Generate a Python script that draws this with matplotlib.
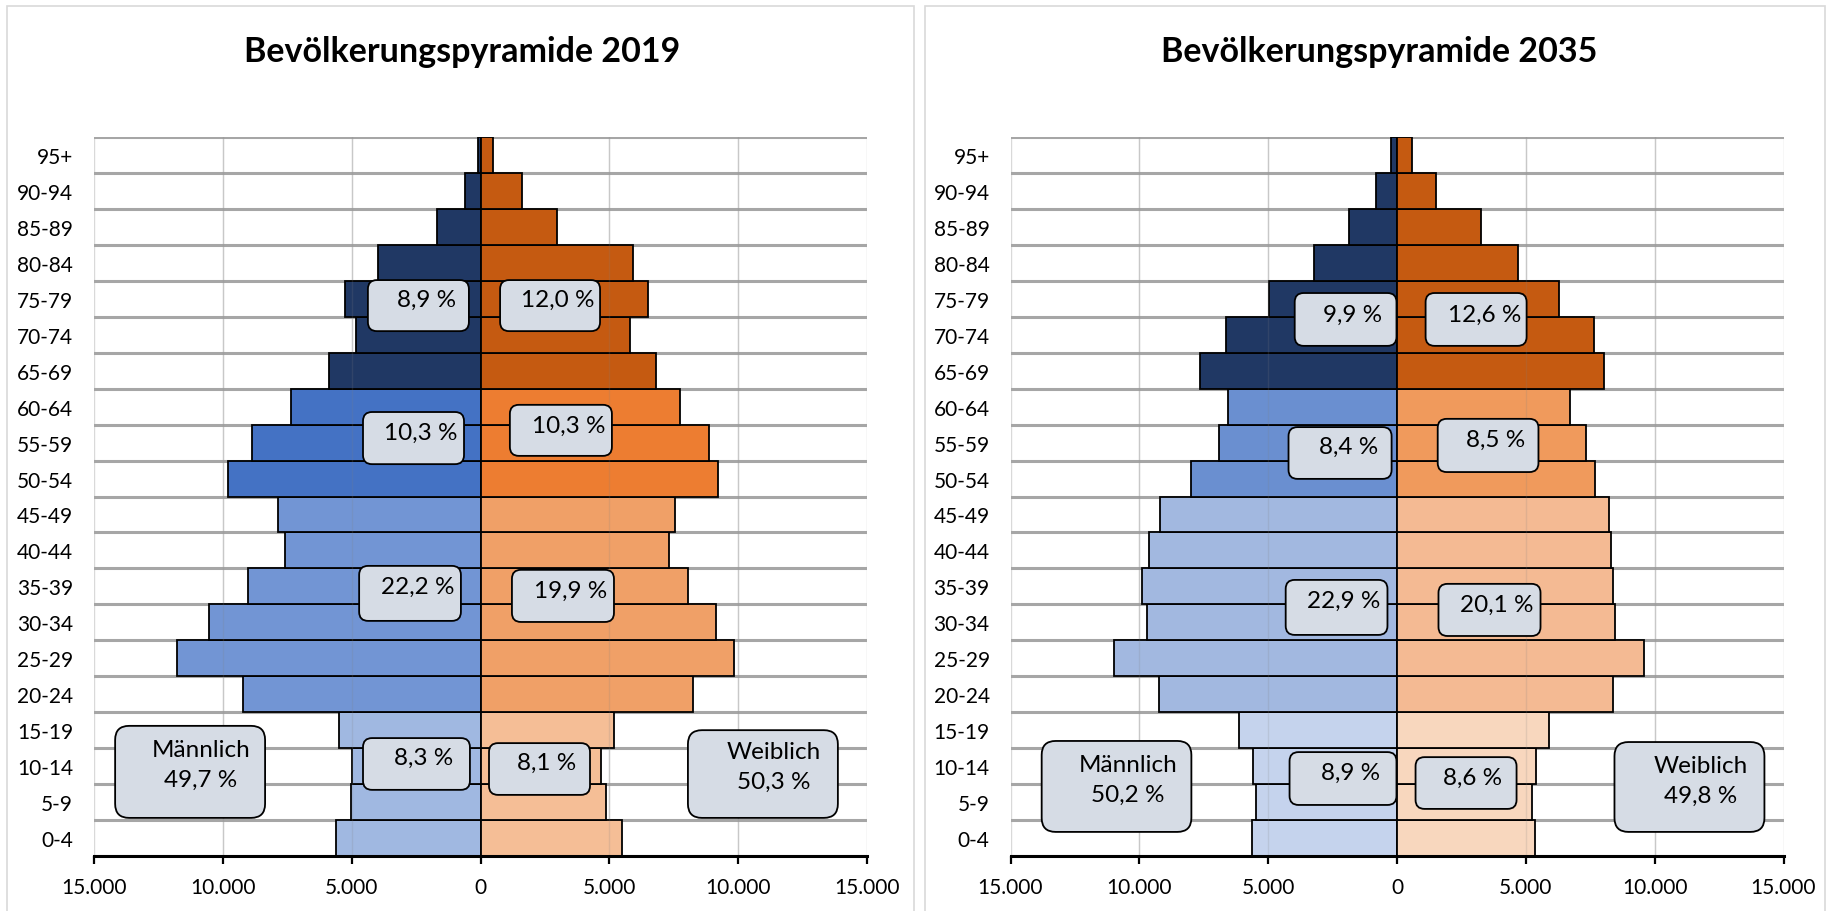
import matplotlib
matplotlib.use("Agg")
import matplotlib.pyplot as plt
from matplotlib.patches import FancyBboxPatch, Rectangle
from matplotlib.transforms import IdentityTransform

plt.rcParams['font.family'] = ['Lato', 'DejaVu Sans']

# ---------------- data ----------------
age_groups = ["0-4", "5-9", "10-14", "15-19", "20-24", "25-29", "30-34", "35-39",
              "40-44", "45-49", "50-54", "55-59", "60-64", "65-69", "70-74", "75-79",
              "80-84", "85-89", "90-94", "95+"]

men_2019 = [5610, 5010, 4970, 5490, 9200, 11760, 10550, 9020, 7600, 7870,
            9790, 8880, 7370, 5880, 4830, 5240, 3980, 1690, 620, 110]
women_2019 = [5490, 4870, 4690, 5170, 8240, 9840, 9130, 8050, 7300, 7530,
              9220, 8880, 7730, 6800, 5790, 6500, 5930, 2970, 1620, 480]
men_2035 = [5630, 5490, 5580, 6150, 9220, 11000, 9720, 9880, 9630, 9190,
            8000, 6910, 6540, 7640, 6650, 4960, 3220, 1880, 820, 230]
women_2035 = [5370, 5240, 5400, 5880, 8370, 9580, 8460, 8370, 8300, 8230,
              7680, 7340, 6720, 8050, 7640, 6270, 4710, 3250, 1530, 570]

# colour group of each age group: 0 = 0-19, 1 = 20-49, 2 = 50-64, 3 = 65+
age_band = [0] * 4 + [1] * 6 + [2] * 3 + [3] * 7

titles = ["Bevölkerungspyramide 2019", "Bevölkerungspyramide 2035"]

share_labels_2019 = ["8,9 %", "12,0 %", "10,3 %", "10,3 %", "22,2 %", "19,9 %", "8,3 %", "8,1 %"]
share_labels_2035 = ["9,9 %", "12,6 %", "8,4 %", "8,5 %", "22,9 %", "20,1 %", "8,9 %", "8,6 %"]
total_labels_2019 = ["Männlich\n49,7 %", "Weiblich\n50,3 %"]
total_labels_2035 = ["Männlich\n50,2 %", "Weiblich\n49,8 %"]

# ---------------- styling / layout ----------------
male_cols = [["#A0B8E1", "#7295D4", "#4472C4", "#203864"],
             ["#C5D3ED", "#A2B8E0", "#6A8FD0", "#203864"]]
female_cols = [["#F5BE96", "#F0A067", "#ED7D31", "#C55A11"],
               ["#F8D7BE", "#F4BA93", "#F09A5C", "#C55A11"]]

# box geometry (x in thousands, y in category units): x0, x1, y0, y1, text x, text y
box_geo = [
    [(-4.37, -0.45, 14.10, 15.52, -2.11, 14.99), (0.76, 4.64, 14.10, 15.52, 3.01, 14.99),
     (-4.56, -0.64, 10.40, 11.85, -2.31, 11.29), (1.14, 5.10, 10.63, 12.05, 3.42, 11.49),
     (-4.71, -0.76, 6.04, 7.57, -2.45, 7.01), (1.22, 5.18, 6.01, 7.46, 3.48, 6.90),
     (-4.56, -0.41, 1.34, 2.78, -2.20, 2.25), (0.33, 4.25, 1.20, 2.64, 2.55, 2.11)],
    [(-3.97, -0.02, 13.69, 15.16, -1.73, 14.58), (1.11, 5.03, 13.69, 15.16, 3.40, 14.58),
     (-4.21, -0.21, 9.99, 11.43, -1.89, 10.90), (1.58, 5.49, 10.18, 11.66, 3.81, 11.10),
     (-4.32, -0.37, 5.65, 7.18, -2.06, 6.62), (1.61, 5.57, 5.62, 7.07, 3.88, 6.51),
     (-4.17, -0.02, 0.92, 2.39, -1.80, 1.84), (0.72, 4.64, 0.81, 2.25, 2.94, 1.70)],
]
total_geo = [
    [(-14.18, -8.36, 0.56, 3.12, -10.85, 2.05), (8.05, 13.87, 0.56, 3.00, 11.39, 2.00)],
    [(-13.79, -7.98, 0.17, 2.70, -10.45, 1.63), (8.44, 14.26, 0.17, 2.67, 11.77, 1.60)],
]

W, H, DPI = 1829, 912, 100
fig = plt.figure(figsize=(W / DPI, H / DPI), dpi=DPI)
fig.patch.set_facecolor("white")

# panel frames
for (x0, x1) in [(7, 914), (925, 1825)]:
    fig.add_artist(Rectangle((x0 / W, -0.02), (x1 - x0) / W, (H - 7) / H + 0.02,
                             transform=fig.transFigure, fill=False,
                             ec="#D9D9D9", lw=1.2))

axes_left = [94 / W, 1010.5 / W]
ax_w = 773 / W
ax_b = 1 - 857 / H
ax_h = 719 / H
title_x = [462 / W, 1379 / W]

datasets = [(men_2019, women_2019, share_labels_2019, total_labels_2019),
            (men_2035, women_2035, share_labels_2035, total_labels_2035)]

def fmt(v):
    return f"{abs(int(v)):,}".replace(",", ".")

for k, (men, women, shares, totals) in enumerate(datasets):
    ax = fig.add_axes([axes_left[k], ax_b, ax_w, ax_h])
    ax.set_xlim(-15000, 15000)
    ax.set_ylim(-0.5, 19.5)
    ax.set_autoscale_on(False)
    y = list(range(len(age_groups)))

    # vertical grid lines
    for gx in range(-15000, 15001, 5000):
        ax.axvline(gx, color="#D9D9D9", lw=1.0, zorder=0)
    # horizontal category separators
    for gy in range(len(age_groups) + 1):
        ax.axhline(gy - 0.5, color="#A6A6A6", lw=2.2, zorder=0.5)

    mc = [male_cols[k][b] for b in age_band]
    fc = [female_cols[k][b] for b in age_band]
    ax.barh(y, [-m for m in men], height=1.0, color=mc, edgecolor="black", lw=1.3, zorder=2)
    ax.barh(y, women, height=1.0, color=fc, edgecolor="black", lw=1.3, zorder=2)
    # faint grid visible through bars
    for gx in range(-10000, 10001, 5000):
        if gx != 0:
            ax.axvline(gx, color="#808080", lw=1.0, alpha=0.18, zorder=2.5)

    ax.set_yticks(y)
    ax.set_yticklabels(age_groups, fontsize=15)
    ax.tick_params(axis="y", length=0, pad=15)
    xt = list(range(-15000, 15001, 5000))
    ax.set_xticks(xt)
    ax.set_xticklabels([fmt(v) for v in xt], fontsize=15)
    ax.tick_params(axis="x", direction="out", length=6, width=1.6, pad=9, color="black")
    for s in ["top", "left", "right"]:
        ax.spines[s].set_visible(False)
    ax.spines["bottom"].set_color("black")
    ax.spines["bottom"].set_linewidth(2.2)
    ax.spines["bottom"].set_zorder(4)

    def add_box(x0, x1, y0, y1, r):
        p0 = ax.transData.transform((x0 * 1000, y0))
        p1 = ax.transData.transform((x1 * 1000, y1))
        patch = FancyBboxPatch((min(p0[0], p1[0]), min(p0[1], p1[1])),
                               abs(p1[0] - p0[0]), abs(p1[1] - p0[1]),
                               boxstyle=f"round,pad=0,rounding_size={r}",
                               transform=IdentityTransform(), fc="#D6DCE5",
                               ec="black", lw=1.3, zorder=5, clip_on=False)
        ax.add_artist(patch)

    for (x0, x1, y0, y1, tx, ty), s in zip(box_geo[k], shares):
        add_box(x0, x1, y0, y1, 9)
        ax.text(tx * 1000, ty, s, ha="center", va="center", fontsize=17.5, zorder=6)
    for (x0, x1, y0, y1, tx, ty), s in zip(total_geo[k], totals):
        add_box(x0, x1, y0, y1, 14)
        ax.text(tx * 1000, ty, s, ha="center", va="center", fontsize=17.5,
                linespacing=1.5, zorder=6)

    fig.text(title_x[k], 1 - 52 / H, titles[k], ha="center", va="center",
             fontsize=24.5, fontweight="bold")

fig.savefig("out.png", dpi=DPI)
